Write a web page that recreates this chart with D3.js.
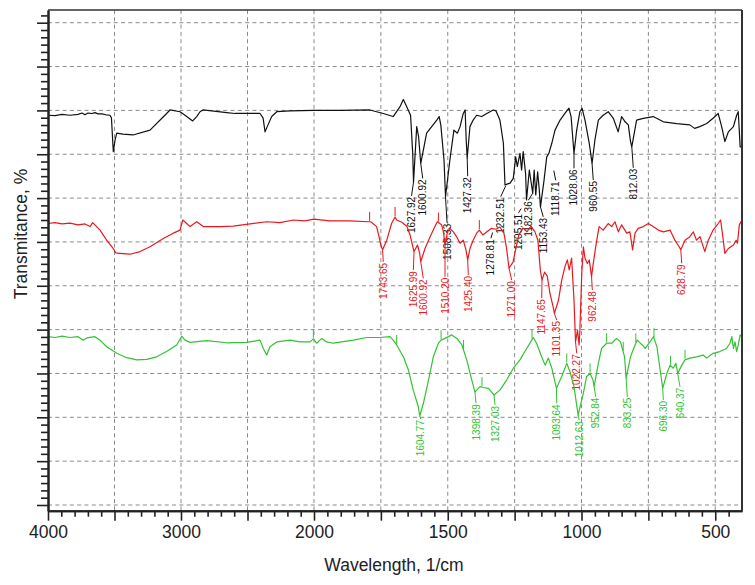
<!DOCTYPE html>
<html>
<head>
<meta charset="utf-8">
<script src="https://cdn.jsdelivr.net/npm/d3@7"></script>
<style>
  body { margin: 0; background: #fff; }
  svg { display: block; font-family: "Liberation Sans", Arial, sans-serif; }
</style>
</head>
<body>
<svg width="755" height="585"></svg>
<script>
// spectra: wavenumber (1/cm) and transmittance (offset %)
var blackWn = [4000,3947,3895,3835,3774,3744,3722,3699,3669,3647,3624,3594,3564,3534,3523,3509,3496,3483,3436,3361,3233,3108,3083,3007,2970,2912,2882,2857,2835,2656,2594,2406,2383,2368,2346,2318,2280,2180,2000,
  1903,1791,1741,1704,1679,1666,1653,1639,1631,1627.92,1616,1609,1600.92,1591,1579,1560,1541,1532,1526,1514,1508.33,1492,1477,1464,1454,1442,1435,1431,1427.32,1417,1405,1392,1373,1354,1330,1320,1305,1292,1286,1267,1255,1246,1240,1230,1224,1218,1209,1205.51,1195,1182.36,1177,1171,1164,1158,1153.43,1140,1130,1122,1111,1099,1080,1062,1047,1039,1028.06,1018,1006,998,987,971,960.55,950,937,919,900,881,863,850,837,825,817,812.03,794,769,732,694,644,595,577,558,532,508,489,476,464,451,432,420,414,407,400];
var blackT = [88.9,88.8,89.1,88.9,89.1,89.4,89.0,89.4,89.3,89.5,89.2,89.2,89.0,88.9,88.3,80.6,83.2,84.8,84.6,84.4,85.5,89.3,90.1,89.7,88.9,87.6,88.6,89.7,90.1,89.5,89.3,89.3,88.3,85.1,86.7,88.6,89.7,89.9,90.0,
  90.0,90.1,89.3,88.6,90.8,92.5,90.8,88.9,80.2,73.7,86.3,84.0,77.9,81.0,84.8,86.3,87.8,88.6,86.7,78.7,70.3,78.7,85.5,84.8,86.3,89.3,90.1,83.2,79.1,86.3,87.8,88.9,88.6,89.3,90.1,89.9,87.8,82.5,73.0,73.4,74.5,79.4,77.2,80.2,76.4,80.6,75.6,69.6,76.4,71.1,76.4,70.7,76.0,72.0,68.0,74.1,79.4,80.2,82.5,85.5,87.8,89.3,90.5,88.6,80.2,85.5,89.7,90.5,87.8,82.5,77.9,83.2,87.8,88.9,89.7,88.2,85.1,88.6,87.4,86.7,83.0,81.7,87.8,88.2,88.6,87.4,87.0,86.7,85.9,86.3,87.0,88.2,89.3,86.3,82.9,85.1,86.3,88.9,89.7,81.7,81.7];

var redWn = [4000,3947,3895,3835,3774,3722,3684,3664,3609,3559,3509,3491,3459,3383,3308,3233,3133,3058,3007,2987,2957,2932,2882,2832,2707,2607,2481,2356,2256,2156,2068,2000,
  1940,1865,1797,1788,1766,1760,1750,1743.65,1728,1710,1697,1691,1672,1653,1641,1632,1625.99,1613,1605,1600.92,1585,1566,1548,1539,1523,1516,1510.2,1501,1492,1479,1467,1454,1442,1432,1425.4,1417,1405,1392,1382,1369,1354,1336,1320,1305,1290,1280,1271,1256,1245,1234,1219,1204,1189,1174,1163,1154,1147.65,1138,1128,1118,1106,1101.35,1086,1074,1062,1053,1046,1037,1028,1022.27,1015,1009,1006,999,993,987,978,971,962.48,956,943,934,919,900,887,875,862,850,831,819,809,800,788,769,750,732,713,694,669,651,635,628.79,613,595,582,570,557,539,526,508,489,480,470,464,451,432,422,417,410,400];
var redT = [64.2,64.4,64.1,64.3,63.9,64.1,63.5,64.4,62.7,60.4,58.5,57.5,57.4,57.2,57.8,58.9,60.8,62.0,62.7,65.0,64.2,63.5,64.6,63.5,63.5,63.6,64.1,64.6,64.4,65.0,64.8,65.2,
  64.8,64.8,64.6,64.6,63.5,62.0,59.3,58.2,60.4,64.2,65.7,65.0,64.5,63.6,61.6,59.3,57.8,59.3,57.4,55.5,58.5,61.2,63.5,64.6,63.9,62.3,59.3,62.3,63.1,62.3,61.2,59.7,60.4,58.2,55.9,58.5,60.4,62.0,62.7,61.6,62.3,63.1,62.9,63.4,62.0,58.5,54.0,55.4,58.6,61.6,63.2,62.3,63.6,62.3,60.4,53.6,51.3,53.1,52.2,48.3,45.2,43.7,46.7,51.3,54.3,55.9,53.6,56.3,46.7,37.2,39.9,36.5,39.9,52.8,58.9,56.3,55.1,55.9,52.1,55.1,60.4,63.5,62.7,64.2,63.5,64.6,62.3,63.9,62.0,62.3,58.2,62.0,63.1,63.5,64.2,63.5,62.7,62.3,62.7,60.4,58.9,58.2,60.4,61.2,62.3,60.4,61.2,57.8,60.4,62.7,64.2,65.0,60.4,57.4,58.5,59.3,60.4,59.7,63.9,65.0];

var greenWn = [4000,3947,3895,3835,3774,3735,3709,3647,3609,3559,3483,3408,3333,3258,3183,3108,3032,2995,2970,2932,2807,2656,2506,2406,2381,2356,2331,2280,2180,2105,2030,2005,
  1990,1971,1953,1928,1853,1803,1753,1716,1704,1691,1666,1647,1629,1610,1604.77,1591,1572,1554,1535,1525,1510,1485,1466,1447,1429,1410,1398.39,1379,1367,1348,1327.03,1305,1280,1255,1230,1205,1186,1180,1168,1149,1136,1124,1111,1093.64,1074,1055,1043,1028,1012.63,993,981,968,957,952.84,937,925,906,887,869,854,839,833.25,817,805,792,773,762,744,731,718,706,696.3,681,669,657,647,640.37,625,613,595,570,545,532,508,483,458,445,438,432,426,420,414,407,400];
var greenT = [38.4,38.2,38.5,38.2,38.4,37.6,38.1,38.4,37.6,36.1,34.6,33.6,33.1,33.2,33.8,35.0,36.5,38.5,37.6,37.1,37.5,37.0,37.1,37.6,35.7,34.2,36.1,37.2,37.6,37.2,37.2,37.9,
  36.9,38.0,37.2,36.9,37.6,38.2,38.2,38.4,37.6,36.5,33.8,30.8,26.2,22.4,20.3,23.2,28.5,33.8,36.9,37.6,38.0,38.8,38.0,36.5,33.1,28.5,25.8,27.0,26.8,26.6,25.1,26.2,28.5,31.2,33.1,35.7,37.6,38.2,36.9,33.8,31.9,33.5,31.2,26.6,29.3,32.3,30.4,27.0,20.5,25.5,29.3,30.0,28.5,27.0,32.3,35.7,36.9,36.9,38.0,37.2,33.8,28.9,33.8,35.7,37.6,36.5,35.7,37.2,38.4,36.1,30.8,26.6,30.0,31.9,31.2,32.3,30.0,31.9,33.1,33.5,33.8,34.2,33.5,34.6,35.0,35.7,36.9,38.4,35.7,37.2,35.0,36.5,38.8,38.3];

// peak annotations
var blackPeaks = ["1627.92","1600.92","1508.33","1427.32","1278.81","1232.51","1205.51","1182.36","1153.43","1118.71","1028.06","960.55","812.03"];
var redPeaks = ["1743.65","1625.99","1600.92","1510.20","1425.40","1271.00","1147.65","1101.35","1022.27","962.48","628.79"];
var greenPeaks = ["1604.77","1398.39","1327.03","1093.64","1012.63","952.84","833.25","696.30","640.37"];
var redMarks = [1792,1697,1535,1382];
var greenMarks = [2005,1691,1525,1441,1372,1185,1055,968,906,844,797,729,667,613];

// axis ticks
var xMajor = [4000,3500,3000,2500,2000,1750,1500,1250,1000,750,500];
var xLabels = [4000,3000,2000,1500,1000,500];
var yMajor = [0,10,20,30,40,50,60,70,80,90,100,110];

// label layout: [dx, gap below peak, leader length (optional)]
var labelLayout = {
  black: [[-2,14],[2,15],[1.5,26],[0.5,18],[-16,54,6],[-18.6,40,12],[-8,13,5],[-4.4,7],[2.8,10],[6,30,10],[0,15],[1.2,16.6],[1.5,21]],
  red: [[0.7,12],[-0.7,18.5],[2.5,16.7],[0,31.7],[0.6,15],[2.7,12],[-0.3,18],[2.3,6.6],[1.2,11.4],[0.8,13.5],[0.9,13.5]],
  green: [[1,3],[1.1,11.4],[1,10],[0.3,15],[1.1,5],[1.5,10],[1.2,18.4],[0.6,11.6],[2.3,13.3]]
};

var svg = d3.select("svg"),
    margin = {left: 48, top: 10},
    width = 694,
    height = 500.7;

var x = d3.scaleLinear().domain([4000, 2000, 400]).range([0, 266, width]);
var y = d3.scaleLinear().domain([-1.3, 112.9]).range([height, 0]);

var g = svg.append("g").attr("transform", "translate(" + margin.left + "," + margin.top + ")");

// grid
g.append("g").selectAll("line")
  .data(xMajor.filter(function(d) { return d != 4000; }))
  .enter().append("line")
  .attr("x1", function(d) { return x(d); })
  .attr("x2", function(d) { return x(d); })
  .attr("y1", 0).attr("y2", height)
  .attr("stroke", "#8a8a8a").attr("stroke-dasharray", "4,3.3");

g.append("g").selectAll("line")
  .data(yMajor)
  .enter().append("line")
  .attr("x1", 0).attr("x2", width)
  .attr("y1", function(d) { return y(d); })
  .attr("y2", function(d) { return y(d); })
  .attr("stroke", "#8a8a8a").attr("stroke-dasharray", "4,3.3");

// traces
g.append("clipPath").attr("id", "plotclip")
  .append("rect").attr("width", width).attr("height", height);

var line = d3.line()
  .x(function(d) { return x(d[0]); })
  .y(function(d) { return y(d[1]); });

var series = [
  {name: "black", wn: blackWn, t: blackT, color: "#111", peaks: blackPeaks, marks: []},
  {name: "red", wn: redWn, t: redT, color: "#e8191e", peaks: redPeaks, marks: redMarks},
  {name: "green", wn: greenWn, t: greenT, color: "#33c233", peaks: greenPeaks, marks: greenMarks}
];

function valueAt(s, wn) {
  for (var i = 0; i < s.wn.length - 1; i++) {
    if (s.wn[i] >= wn && s.wn[i + 1] <= wn) {
      var f = (s.wn[i] - wn) / (s.wn[i] - s.wn[i + 1]);
      return s.t[i] + f * (s.t[i + 1] - s.t[i]);
    }
  }
  return s.t[s.t.length - 1];
}

series.forEach(function(s) {
  g.append("path")
    .datum(d3.zip(s.wn, s.t))
    .attr("clip-path", "url(#plotclip)")
    .attr("fill", "none")
    .attr("stroke", s.color)
    .attr("stroke-width", 1.2)
    .attr("stroke-linejoin", "round")
    .attr("d", line);

  // little peak markers above the trace
  g.append("g").selectAll("line")
    .data(s.marks)
    .enter().append("line")
    .attr("x1", function(d) { return x(d); })
    .attr("x2", function(d) { return x(d); })
    .attr("y1", function(d) { return y(valueAt(s, d)) - 1; })
    .attr("y2", function(d) { return y(valueAt(s, d)) - 10; })
    .attr("stroke", s.color).attr("stroke-width", 1);

  var lay = labelLayout[s.name];
  var lab = g.append("g");
  s.peaks.forEach(function(p, i) {
    var wn = +p;
    var px = x(wn), py = y(valueAt(s, wn));
    var lx = px + lay[i][0], ly = py + lay[i][1];
    var ex = px, ey = py;
    if (lay[i][2]) {
      var dx = px - lx, dy = py - ly, len = Math.sqrt(dx * dx + dy * dy);
      ex = lx + dx / len * lay[i][2];
      ey = ly + dy / len * lay[i][2];
    }
    lab.append("line")
      .attr("x1", lx).attr("y1", ly)
      .attr("x2", ex).attr("y2", ey)
      .attr("stroke", s.color).attr("stroke-width", 1);
    lab.append("text")
      .attr("transform", "translate(" + lx + "," + (ly + 1) + ") rotate(-90)")
      .attr("text-anchor", "end")
      .attr("dy", "0.35em")
      .attr("font-size", "10px")
      .attr("fill", s.color)
      .text(p);
  });
});

// axes
var xMinor = [];
for (var v = 3900; v > 2000; v -= 100) if (v % 500 != 0) xMinor.push(v);
for (var v = 1950; v > 400; v -= 50) if (v % 250 != 0) xMinor.push(v);
var yMinor = [];
for (var i = 0; i * 10 / 6 <= 112.9; i++) if (i % 6 != 0) yMinor.push(i * 10 / 6);

var xAxis = g.append("g")
  .attr("transform", "translate(0," + height + ")")
  .call(d3.axisBottom(x).tickValues(xMajor).tickSize(10).tickSizeOuter(0).tickPadding(5)
    .tickFormat(function(d) { return xLabels.indexOf(d) >= 0 ? d : ""; }));
g.append("g")
  .attr("transform", "translate(0," + height + ")")
  .call(d3.axisBottom(x).tickValues(xMinor).tickSize(6).tickSizeOuter(0).tickFormat(""));

var yAxis = g.append("g")
  .call(d3.axisLeft(y).tickValues(yMajor).tickSize(11).tickSizeOuter(0).tickFormat(""));
g.append("g")
  .call(d3.axisLeft(y).tickValues(yMinor).tickSize(7).tickSizeOuter(0).tickFormat(""));

g.selectAll(".tick line").attr("stroke", "#222").attr("stroke-width", 1.6);
g.selectAll(".domain").attr("stroke", "#222").attr("stroke-width", 2);
xAxis.selectAll("text")
  .attr("font-size", "17.5px")
  .attr("font-family", "Liberation Sans, Arial, sans-serif")
  .attr("fill", "#222");

// frame top and right
g.append("line").attr("x1", 0).attr("x2", width).attr("y1", 0).attr("y2", 0)
  .attr("stroke", "#333").attr("stroke-width", 1.5);
g.append("line").attr("x1", width).attr("x2", width).attr("y1", 0).attr("y2", height)
  .attr("stroke", "#333").attr("stroke-width", 2);

// titles
svg.append("text")
  .attr("x", 394).attr("y", 571)
  .attr("text-anchor", "middle")
  .attr("font-size", "17.5px")
  .attr("fill", "#222")
  .text("Wavelength, 1/cm");

svg.append("text")
  .attr("transform", "translate(26.5,234) rotate(-90)")
  .attr("text-anchor", "middle")
  .attr("font-size", "17.5px")
  .attr("fill", "#222")
  .text("Transmitance, %");
</script>
</body>
</html>
